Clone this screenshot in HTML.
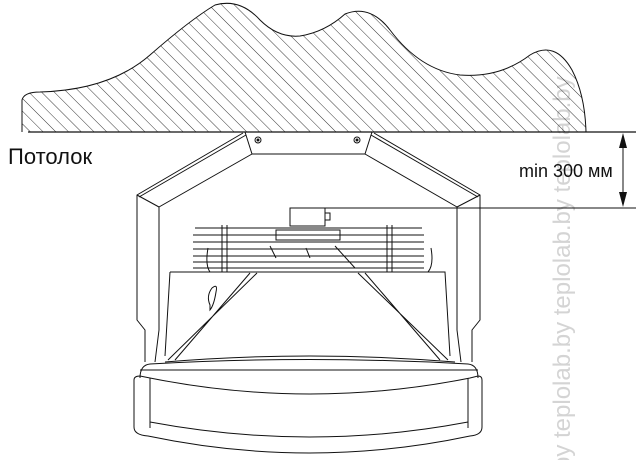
<!DOCTYPE html>
<html><head><meta charset="utf-8"><style>
html,body{margin:0;padding:0;background:#fff;}
svg{display:block;}
</style></head><body>
<svg width="640" height="460" viewBox="0 0 640 460" xmlns="http://www.w3.org/2000/svg">
<defs>
<pattern id="h" patternUnits="userSpaceOnUse" width="9" height="9" patternTransform="rotate(-45)">
<line x1="0" y1="0" x2="0" y2="9" stroke="#222" stroke-width="0.9"/>
</pattern>
<clipPath id="c"><path d="M22,132 L22,100 Q24,92 40,92 Q110,90 150,55 Q190,20 215,5 Q240,-2 260,20 Q278,38 300,36 Q325,32 345,14 Q370,4 390,30 Q420,70 460,75 Q500,78 530,55 Q555,40 572,70 Q585,95 586,132 Z"/></clipPath>
</defs>
<text transform="translate(570,470) rotate(-90)" font-family="Liberation Sans, sans-serif" font-size="24" fill="#d4d4d4">by   teplolab.by   teplolab.by   teplolab.by</text>
<rect x="0" y="0" width="640" height="132" fill="url(#h)" clip-path="url(#c)"/>
<path d="M22,132 L22,100 Q24,92 40,92 Q110,90 150,55 Q190,20 215,5 Q240,-2 260,20 Q278,38 300,36 Q325,32 345,14 Q370,4 390,30 Q420,70 460,75 Q500,78 530,55 Q555,40 572,70 Q585,95 586,132" fill="none" stroke="#111" stroke-width="1"/>
<line x1="28" y1="132" x2="636" y2="132" stroke="#111" stroke-width="1.2"/>
<text x="8" y="164" font-family="Liberation Sans, sans-serif" font-size="22" fill="#111">Потолок</text>
<line x1="290" y1="208" x2="636" y2="208" stroke="#111" stroke-width="1"/>
<line x1="623" y1="140" x2="623" y2="200" stroke="#111" stroke-width="1"/>
<polygon points="623,133 619,148 627,148" fill="#111"/>
<polygon points="623,207 619,192 627,192" fill="#111"/>
<text x="519" y="177" font-family="Liberation Sans, sans-serif" font-size="18" fill="#111">min 300 мм</text>
<g fill="none" stroke="#111" stroke-width="1">
<path d="M245,132 L252,154 L365,154 L372,132"/>
<circle cx="258" cy="140" r="3"/><circle cx="357" cy="140" r="3"/>
<circle cx="258" cy="140" r="1" fill="#111"/><circle cx="357" cy="140" r="1" fill="#111"/>
<path d="M243,133 L137,195 L137,320 L145,330 L145,362"/>
<path d="M246,135 L139,197"/>
<path d="M252,154 L159,207 L159,330 L155,362"/>
<path d="M137,195 L159,207"/>
<path d="M374,133 L480,195 L480,320 L472,330 L472,362"/>
<path d="M371,135 L478,197"/>
<path d="M365,154 L457,207 L457,330 L461,362"/>
<path d="M480,195 L457,207"/>
<rect x="290" y="208" width="35" height="18"/>
<rect x="325" y="213" width="5" height="7"/>
<path d="M195,228 H422 M193,235 H424 M193,242 H424 M193,249 H424 M193,256 H424 M193,262 H424 M193,268 H424"/>
<rect x="276" y="230" width="64" height="10"/>
<path d="M222,225 V272 M227,225 V272 M387,225 V272 M392,225 V272"/>
<path d="M208,248 Q205,265 210,272 M431,248 Q434,265 428,272"/>
<path d="M270,246 L276,258 M306,248 L310,258 M335,246 L355,268"/>
<path d="M170,272 H445 L450,356 M170,272 L165,356"/>
<path d="M257,273 L168,360 M250,273 L175,360 M358,273 L448,360 M365,273 L440,360"/>
<path d="M210,305 Q206,296 212,288 Q218,283 216,292 Q214,305 210,310 Z"/>
<path d="M140,378 Q140,365 150,364 Q310,355 468,364 Q478,365 478,378"/>
<path d="M165,362 Q310,350 455,362"/>
<path d="M140,370 H478"/>
<path d="M134,380 Q134,376 140,376 L150,378 Q310,410 470,378 L478,376 Q482,376 482,380 L482,427 Q482,435 470,436 Q310,470 148,436 Q134,435 134,427 Z"/>
<path d="M150,378 L150,428 M468,378 L468,428"/>
<path d="M150,422 Q310,452 468,422"/>
</g>
</svg>
</body></html>
